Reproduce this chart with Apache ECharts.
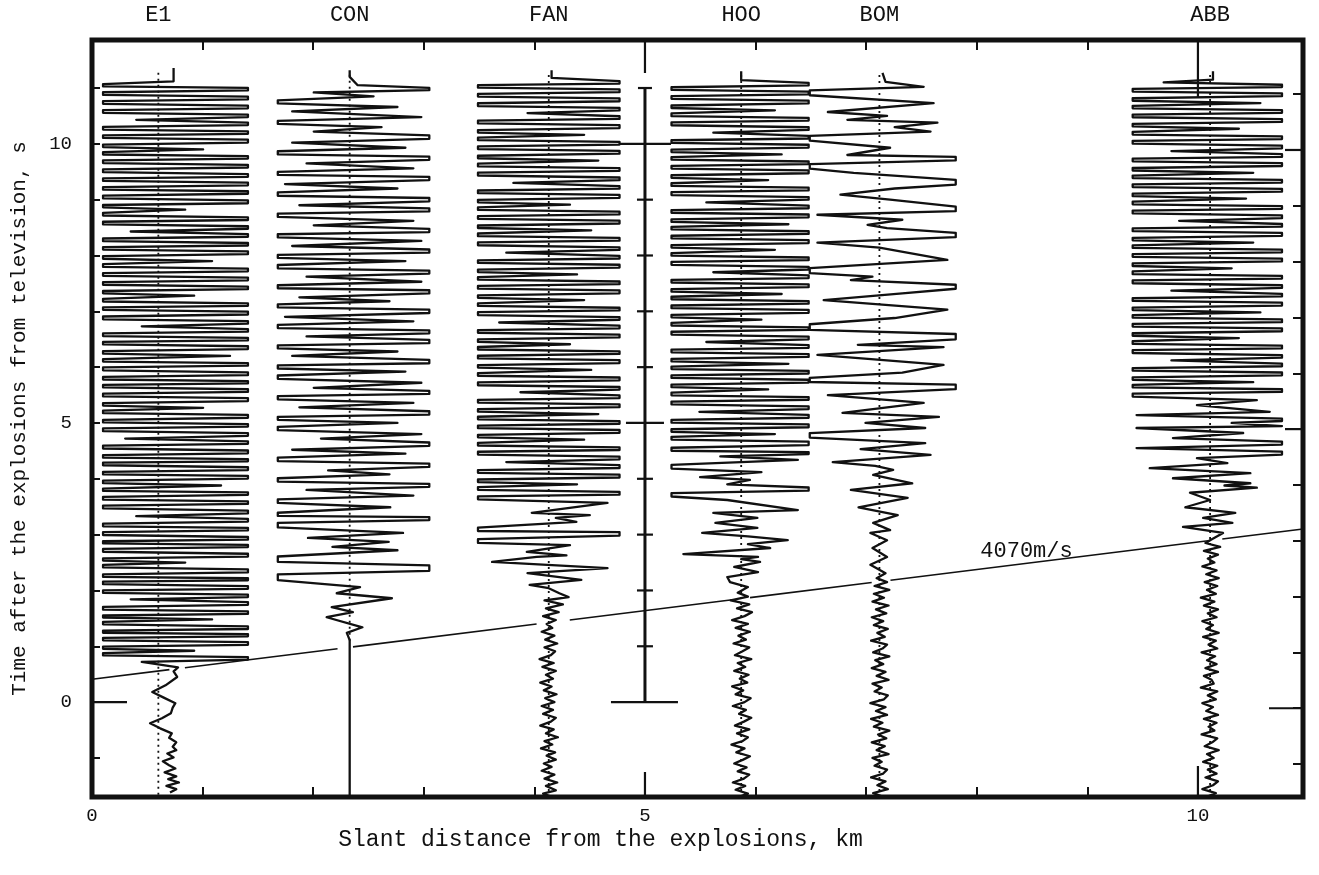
<!DOCTYPE html>
<html>
<head>
<meta charset="utf-8">
<script src="https://cdn.jsdelivr.net/npm/echarts@6/dist/echarts.min.js"></script>
<style>
html,body{margin:0;padding:0;background:#fff;}
#chart{width:1319px;height:875px;}
</style>
</head>
<body>
<div id="chart"></div>
<script>
// ---- Record section: stations, distances and traces ----
const stationNames = ['E1', 'CON', 'FAN', 'HOO', 'BOM', 'ABB'];
const stationDist = [0.6, 2.33, 4.13, 5.87, 7.12, 10.11];          // km
// clip level of each trace, in km to the left / right of its station line
const clipLeft = [0.5, 0.65, 0.64, 0.63, 0.63, 0.70];
const clipRight = [0.81, 0.72, 0.64, 0.61, 0.69, 0.65];
// dotted station (zero) lines, time span in s
const zeroLineTop = [11.3, 11.3, 11.3, 11.3, 11.3, 11.3];
const zeroLineBottom = [-1.66, 1.1, -1.7, -1.7, -1.7, -1.7];

// traces: [time s, amplitude], amplitude normalised to the clip level (|a| >= 1 is clipped)
const traceE1 = [
[-1.62,.13],[-1.56,.2],[-1.5,.09],[-1.44,.23],[-1.38,.11],[-1.33,.2],[-1.26,.07],[-1.19,.19],[-1.13,.12],[-1.06,.05],[-.99,.17],[-.92,.1],[-.86,.2],[-.8,.16],[-.72,.2],[-.64,.12],[-.56,.15],[-.47,.02],[-.38,-.15],[-.29,.04],[-.2,.14],[-.1,.16],[-.02,.19],[.08,.06],[.18,-.11],[.3,.08],[.45,.21],[.55,.17],[.62,.22],
[.72,-.3],[.78,1],[.86,-1],[.92,.4],[.97,-1],[1.05,1],[1.13,-1],[1.2,1],[1.26,-1],[1.33,1],[1.42,-1],[1.48,.6],[1.53,-1],[1.6,1],[1.68,-1],[1.77,1],[1.84,-.5],[1.9,1],[1.98,-1],[2.05,1],[2.14,-1],[2.2,1],[2.26,-1],[2.35,1],[2.44,-1],[2.5,.3],[2.55,-1],[2.63,1],[2.72,-1],[2.8,1],[2.86,-1],[2.93,1],[3.02,-1],[3.1,1],[3.17,-1],[3.26,1],[3.33,-.4],[3.4,1],[3.5,-1],[3.57,1],[3.65,-1],[3.74,1],[3.8,-1],[3.88,.7],[3.94,-1],[4.03,1],[4.1,-1],[4.18,1],[4.27,-1],[4.33,1],[4.4,-1],[4.48,1],[4.57,-1],[4.65,1],[4.72,-.6],[4.79,1],[4.88,-1],[4.96,1],[5.03,-1],[5.12,1],[5.2,-1],[5.27,.5],[5.33,-1],[5.42,1],[5.5,-1],[5.58,1],[5.66,-1],[5.73,1],[5.8,-1],[5.88,1],[5.97,-1],[6.05,1],[6.12,-1],[6.2,.8],[6.26,-1],[6.35,1],[6.43,-1],[6.5,1],[6.58,-1],[6.66,1],[6.73,-.3],[6.8,1],[6.88,-1],[6.97,1],[7.05,-1],[7.12,1],[7.2,-1],[7.28,.4],[7.34,-1],[7.42,1],[7.5,-1],[7.58,1],[7.66,-1],[7.74,1],[7.82,-1],[7.9,.6],[7.96,-1],[8.05,1],[8.13,-1],[8.2,1],[8.28,-1],[8.36,1],[8.43,-.5],[8.5,1],[8.58,-1],[8.66,1],[8.74,-1],[8.82,.3],[8.88,-1],[8.96,1],[9.05,-1],[9.13,1],[9.2,-1],[9.28,1],[9.36,-1],[9.43,1],[9.52,-1],[9.6,1],[9.68,-1],[9.76,1],[9.83,-1],[9.9,.5],[9.96,-1],[10.05,1],[10.13,-1],[10.2,1],[10.28,-1],[10.36,1],[10.43,-.4],[10.5,1],[10.58,-1],[10.66,1],[10.74,-1],[10.82,1],[10.9,-1],[10.98,1],[11.05,-1],[11.12,.17],[11.36,.17]
];
const traceCON = [
[-1.7,0],[1.11,0],[1.24,-.04],[1.34,.16],[1.52,-.32],[1.61,.04],[1.7,-.25],[1.86,.53],[1.95,-.18],[2.06,.13],[2.24,-1],[2.4,1],[2.56,-1],[2.72,.6],[2.78,-.24],[2.87,.49],[2.94,-.58],[3.03,.67],[3.17,-1],[3.3,1],[3.35,-1],[3.49,.51],
[3.6,-1],[3.7,.8],[3.8,-.6],[3.88,1],[3.98,-1],[4.08,.5],[4.15,-.3],[4.24,1],[4.35,-1],[4.45,.7],[4.52,-.8],[4.62,1],[4.72,-.4],[4.8,.9],[4.9,-1],[5.0,.6],[5.08,-1],[5.18,1],[5.28,-.7],[5.36,.8],[5.45,-1],[5.55,1],[5.63,-.5],[5.72,.9],[5.82,-1],[5.92,.7],[6.0,-1],[6.1,1],[6.2,-.8],[6.28,.6],[6.36,-1],[6.46,1],[6.55,-.6],[6.63,1],[6.73,-1],[6.82,.8],[6.9,-.9],[7.0,1],[7.1,-1],[7.18,.5],[7.25,-.7],[7.35,1],[7.44,-1],[7.53,.9],[7.62,-.6],[7.7,1],[7.8,-1],[7.9,.7],[7.98,-1],[8.08,1],[8.17,-.8],[8.26,.9],[8.35,-1],[8.45,1],[8.54,-.5],[8.62,.8],[8.72,-1],[8.82,1],[8.9,-.7],[9.0,1],[9.1,-1],[9.2,.6],[9.28,-.9],[9.38,1],[9.47,-1],[9.56,.8],[9.65,-.6],[9.74,1],[9.84,-1],[9.93,.7],[10.02,-.8],[10.12,1],[10.22,-.5],[10.3,.4],[10.38,-1],[10.48,.9],[10.58,-.8],[10.66,.6],[10.75,-1],[10.85,.3],[10.92,-.5],[10.98,1],[11.05,.1],[11.2,0],[11.32,0]
];
const traceFAN = [
[-1.7,.05],[-1.64,-.08],[-1.58,.1],[-1.5,-.04],[-1.44,.12],[-1.37,-.06],[-1.3,.08],[-1.23,-.1],[-1.16,.04],[-1.1,-.07],[-1.03,.1],[-.96,-.03],[-.9,.09],[-.83,-.11],[-.76,.05],[-.7,-.06],[-.63,.13],[-.56,-.04],[-.49,.07],[-.42,-.12],[-.35,.03],[-.28,.1],[-.21,-.08],[-.14,.06],[-.07,-.1],[0,.08],[.07,-.05],[.14,.11],[.21,-.07],[.28,.04],[.35,-.12],[.42,.06],[.49,-.04],[.56,.1],[.63,-.09],[.7,.07],[.77,-.13],[.84,.03],[.91,.09],[.98,-.06],[1.05,.12],[1.12,-.05],[1.19,.08],[1.26,-.1],[1.33,.05],[1.4,-.03],[1.47,.1],[1.54,-.08],[1.61,.14],[1.68,-.04],[1.75,.2],[1.82,-.06],[1.88,.28],
[1.95,.15],[2.04,0],[2.1,-.27],[2.19,.46],[2.31,-.3],[2.4,.83],[2.51,-.8],[2.6,-.17],[2.63,.25],[2.69,-.31],[2.81,.3],[2.87,-1],[3.03,1],[3.08,-1],[3.23,.39],[3.3,.1],[3.35,.58],[3.39,-.24],[3.57,.83],
[3.66,-1],[3.74,1],[3.83,-1],[3.9,.4],[3.96,-1],[4.05,1],[4.13,-1],[4.22,1],[4.3,-.6],[4.37,1],[4.46,-1],[4.54,1],[4.62,-1],[4.7,.5],[4.76,-1],[4.85,1],[4.93,-1],[5.01,1],[5.09,-1],[5.16,.7],[5.22,-1],[5.31,1],[5.39,-1],[5.47,1],[5.55,-.4],[5.62,1],[5.7,-1],[5.79,1],[5.87,-1],[5.95,.6],[6.01,-1],[6.1,1],[6.18,-1],[6.26,1],[6.34,-1],[6.41,.3],[6.47,-1],[6.56,1],[6.64,-1],[6.72,1],[6.8,-.7],[6.87,1],[6.96,-1],[7.04,1],[7.12,-1],[7.2,.5],[7.26,-1],[7.35,1],[7.43,-1],[7.51,1],[7.59,-1],[7.66,.4],[7.72,-1],[7.81,1],[7.89,-1],[7.97,1],[8.05,-.6],[8.12,1],[8.21,-1],[8.29,1],[8.37,-1],[8.45,.6],[8.51,-1],[8.6,1],[8.68,-1],[8.76,1],[8.84,-1],[8.91,.3],[8.97,-1],[9.06,1],[9.14,-1],[9.22,1],[9.3,-.5],[9.37,1],[9.46,-1],[9.54,1],[9.62,-1],[9.7,.7],[9.76,-1],[9.85,1],[9.93,-1],[10.01,1],[10.09,-1],[10.16,.5],[10.22,-1],[10.31,1],[10.39,-1],[10.47,1],[10.55,-.3],[10.62,1],[10.7,-1],[10.79,1],[10.87,-1],[10.95,1],[11.03,-1],[11.1,1],[11.18,.04],[11.32,.04]
];
const traceHOO = [
[-1.7,-.04],[-1.64,.1],[-1.57,-.08],[-1.5,.06],[-1.44,-.12],[-1.37,.04],[-1.3,.12],[-1.24,-.05],[-1.17,.08],[-1.1,-.1],[-1.03,.03],[-.97,.13],[-.9,-.07],[-.83,.05],[-.76,-.14],[-.7,.02],[-.63,.1],[-.56,-.06],[-.49,.12],[-.42,-.09],[-.35,.04],[-.28,.15],[-.21,-.03],[-.14,.07],[-.07,-.12],[0,.05],[.07,.14],[.14,-.08],[.21,.03],[.28,-.13],[.35,.09],[.42,-.02],[.49,.11],[.56,-.1],[.63,.06],[.7,-.05],[.77,.15],[.84,-.09],[.91,.02],[.98,.12],[1.05,-.11],[1.12,.07],[1.19,-.04],[1.26,.13],[1.33,-.08],[1.4,.1],[1.47,-.13],[1.54,.05],[1.61,.16],[1.68,-.06],[1.75,.12],[1.82,-.15],[1.89,.1],[1.96,-.05],
[2.06,.1],[2.15,-.16],[2.24,-.2],[2.33,.25],[2.42,-.1],[2.51,.28],[2.56,0],[2.6,.25],[2.65,-.83],[2.76,.43],[2.83,.1],[2.9,.69],[2.97,.1],[3.03,-.56],[3.12,.24],[3.21,-.37],[3.3,.24],[3.39,-.4],[3.44,.84],[3.62,-.2],[3.71,-1],[3.82,1],[3.9,-.2],[3.98,.13],[4.03,-.59],[4.12,.3],[4.21,-1],[4.34,.84],[4.4,-.3],[4.46,1],[4.52,-1],[4.64,1],
[4.73,-1],[4.8,.5],[4.86,-1],[4.95,1],[5.03,-1],[5.12,1],[5.2,-.6],[5.27,1],[5.36,-1],[5.44,1],[5.52,-1],[5.6,.4],[5.66,-1],[5.75,1],[5.83,-1],[5.91,1],[5.99,-1],[6.06,.7],[6.12,-1],[6.21,1],[6.29,-1],[6.37,1],[6.45,-.5],[6.52,1],[6.61,-1],[6.69,1],[6.77,-1],[6.85,.3],[6.91,-1],[7.0,1],[7.08,-1],[7.16,1],[7.24,-1],[7.31,.6],[7.37,-1],[7.46,1],[7.54,-1],[7.62,1],[7.7,-.4],[7.77,1],[7.86,-1],[7.94,1],[8.02,-1],[8.1,.5],[8.16,-1],[8.25,1],[8.33,-1],[8.41,1],[8.49,-1],[8.56,.7],[8.62,-1],[8.71,1],[8.79,-1],[8.87,1],[8.95,-.5],[9.02,1],[9.11,-1],[9.19,1],[9.27,-1],[9.35,.4],[9.41,-1],[9.5,1],[9.58,-1],[9.66,1],[9.74,-1],[9.81,.6],[9.87,-1],[9.96,1],[10.04,-1],[10.12,1],[10.2,-.4],[10.27,1],[10.36,-1],[10.44,1],[10.52,-1],[10.6,.5],[10.66,-1],[10.75,1],[10.83,-1],[10.91,1],[10.99,-1],[11.07,1],[11.14,0],[11.3,0]
];
const traceBOM = [
[-1.7,.06],[-1.63,-.09],[-1.56,.11],[-1.49,-.03],[-1.42,.08],[-1.35,-.12],[-1.28,.05],[-1.21,.1],[-1.14,-.07],[-1.07,.03],[-1,-.1],[-.93,.12],[-.86,-.04],[-.79,.07],[-.72,-.11],[-.65,.09],[-.58,-.02],[-.51,.13],[-.44,-.08],[-.37,.04],[-.3,-.12],[-.23,.1],[-.16,-.05],[-.09,.08],[-.02,-.13],[.05,.06],[.12,.11],[.19,-.07],[.26,.03],[.33,-.1],[.4,.12],[.47,-.04],[.54,.08],[.61,-.11],[.68,.05],[.75,-.06],[.82,.13],[.89,-.09],[.96,.04],[1.03,.1],[1.1,-.12],[1.17,.07],[1.24,-.03],[1.31,.11],[1.38,-.08],[1.45,.05],[1.52,-.11],[1.59,.09],[1.66,-.05],[1.73,.12],[1.8,-.1],[1.87,.06],[1.94,-.08],[2.01,.13],[2.08,-.07],[2.15,.1],[2.22,-.04],
[2.31,.08],[2.46,-.13],[2.6,.1],[2.76,-.1],[2.9,.1],[3.03,-.13],[3.08,.14],[3.21,-.09],[3.35,.24],[3.49,-.3],[3.66,.37],[3.8,-.41],[3.92,.43],[4.07,-.09],[4.16,.18],[4.23,-.06],[4.3,-.67],[4.43,.67],[4.53,-.27],[4.64,.6],[4.78,-1],[4.91,.6],[5.0,-.2],[5.11,.78],[5.18,-.53],[5.36,.58],
[5.5,-.74],[5.65,1],[5.77,-1],[5.9,.3],[6.04,.84],[6.22,-.89],[6.36,.84],[6.4,-.31],[6.54,1],[6.72,-1],[6.88,.2],[7.03,.89],[7.2,-.8],[7.32,.3],[7.44,1],[7.56,-.41],[7.62,-.1],[7.71,-1],[7.92,.89],[8.14,0],[8.23,-.89],[8.37,1],[8.49,.1],[8.55,-.17],[8.64,.3],[8.73,-.89],[8.82,1],[9.0,.14],[9.09,-.56],[9.2,.2],[9.3,1],[9.48,-.37],[9.59,-1],[9.75,1],[9.8,-.46],[9.93,.14],[10.11,-1],[10.22,.67],[10.3,.2],[10.38,.76],[10.43,-.46],[10.5,.1],[10.57,-.74],[10.73,.71],[10.93,-1],[11.02,.58],[11.11,.08],[11.27,.04]
];
const traceABB = [
[-1.7,-.05],[-1.63,.08],[-1.56,-.1],[-1.49,.04],[-1.42,.11],[-1.35,-.06],[-1.28,.09],[-1.21,-.03],[-1.14,.1],[-1.07,-.09],[-1,.05],[-.93,-.04],[-.86,.12],[-.79,-.07],[-.72,.03],[-.65,.1],[-.58,-.11],[-.51,.06],[-.44,-.02],[-.37,.09],[-.3,-.08],[-.23,.11],[-.16,-.05],[-.09,.04],[-.02,-.1],[.05,.08],[.12,-.03],[.19,.1],[.26,-.12],[.33,.05],[.4,.02],[.47,-.08],[.54,.11],[.61,-.06],[.68,.09],[.75,-.04],[.82,.07],[.89,-.11],[.96,.1],[1.03,-.02],[1.1,.08],[1.17,-.09],[1.24,.12],[1.31,-.05],[1.38,.04],[1.45,-.1],[1.52,.09],[1.59,-.03],[1.66,.11],[1.73,-.08],[1.8,.06],[1.87,-.12],[1.94,.08],[2.01,-.04],[2.08,.1],[2.15,-.07],[2.22,.12],[2.29,-.05],[2.36,.09],[2.43,-.1],[2.5,.06],[2.57,-.03],[2.64,.11],[2.71,-.08],[2.78,.14],[2.85,-.06],
[2.9,0],[3.03,.18],[3.14,-.35],[3.21,.31],[3.3,-.09],[3.39,.35],[3.49,-.32],[3.62,0],[3.75,-.26],[3.84,.65],[3.88,.2],[3.92,.56],[4.01,-.48],[4.1,.56],[4.19,-.78],[4.28,.24],[4.37,-.17],[4.46,1],[4.55,-.95],[4.64,1],[4.73,-.48],[4.82,.46],[4.91,-.95],[4.96,1],[5.0,.3],[5.05,1],[5.14,-.95],[5.2,.83],[5.32,-.17],[5.41,.65],
[5.5,-1],[5.58,1],[5.66,-1],[5.73,.6],[5.79,-1],[5.88,1],[5.96,-1],[6.04,1],[6.12,-.5],[6.19,1],[6.28,-1],[6.36,1],[6.44,-1],[6.52,.4],[6.58,-1],[6.67,1],[6.75,-1],[6.83,1],[6.91,-1],[6.98,.7],[7.04,-1],[7.13,1],[7.21,-1],[7.29,1],[7.37,-.5],[7.44,1],[7.53,-1],[7.61,1],[7.69,-1],[7.77,.3],[7.83,-1],[7.92,1],[8.0,-1],[8.08,1],[8.16,-1],[8.23,.6],[8.29,-1],[8.38,1],[8.46,-1],[8.54,1],[8.62,-.4],[8.69,1],[8.78,-1],[8.86,1],[8.94,-1],[9.02,.5],[9.08,-1],[9.17,1],[9.25,-1],[9.33,1],[9.41,-1],[9.48,.6],[9.54,-1],[9.63,1],[9.71,-1],[9.79,1],[9.87,-.5],[9.94,1],[10.03,-1],[10.11,1],[10.19,-1],[10.27,.4],[10.33,-1],[10.42,1],[10.5,-1],[10.58,1],[10.66,-1],[10.73,.7],[10.79,-1],[10.88,1],[10.96,-1],[11.04,1],[11.1,-.6],[11.15,.04],[11.3,.04]
];
const traces = [traceE1, traceCON, traceFAN, traceHOO, traceBOM, traceABB];

// apparent-velocity line: t = rayT0 + x / rayVelocity, broken where it meets each trace
const rayVelocity = 4.07;   // km/s
const rayT0 = 0.41;         // s
const rayLabel = '4070m/s';
const rayLabelAt = [8.45, 2.7];
const rayGaps = [[0.7, 0.84], [2.22, 2.36], [4.02, 4.32], [5.79, 5.95], [7.05, 7.22], [10.11, 10.22]];

// time scale bar
const scaleBarX = 5;
const scaleBarTicks = [0,1,2,3,4,5,6,7,8,9,10,11];

// axes
const xMin = 0, xMax = 10.95, yMin = -1.7, yMax = 11.86;
const xTicks = [1,2,3,4,5,6,7,8,9,10];
const xTickLabels = [0, 5, 10];
const yTicks = [-1,0,1,2,3,4,5,6,7,8,9,10,11];
const yTickLabels = [0, 5, 10];
const rightTicks = [-1.11,-0.11,0.89,1.89,2.89,3.89,4.89,5.89,6.89,7.89,8.89,9.89,10.89,11.89];
const bottomLongTicks = [5, 10];
const topLongTicks = [5, 10];
const leftLongTicks = [0];
const rightLongTicks = [-0.11, 4.89, 9.89];
const xTitle = 'Slant distance from the explosions, km';
const yTitle = 'Time after the explosions from television, s';

// ---- build drawing data ----
const INK = '#111';
const FONT = '"Liberation Mono", "DejaVu Sans Mono", monospace';

function traceLine(d, cl, cr, pts) {
  const P = 0.3, out = [];
  const xOf = a => d + (a < 0 ? Math.max(a, -1) * cl : Math.min(a, 1) * cr);
  pts.forEach((p, i) => {
    const t = p[0], a = p[1];
    if (Math.abs(a) >= 1) {
      const t0 = i > 0 ? t - P * (t - pts[i - 1][0]) : t;
      const t1 = i < pts.length - 1 ? t + P * (pts[i + 1][0] - t) : t;
      out.push([xOf(a), t0], [xOf(a), t1]);
    } else {
      out.push([xOf(a), t]);
    }
  });
  return out;
}

const series = [];

// dotted zero lines
stationDist.forEach((d, i) => {
  series.push({
    type: 'line', name: stationNames[i] + '-zero', symbol: 'none', silent: true, animation: false,
    data: [[d, zeroLineBottom[i]], [d, zeroLineTop[i]]],
    lineStyle: { color: INK, width: 1.8, type: [2, 4] }, z: 2
  });
});

// seismic traces
traces.forEach((tr, i) => {
  series.push({
    type: 'line', name: stationNames[i], symbol: 'none', silent: true, animation: false,
    data: traceLine(stationDist[i], clipLeft[i], clipRight[i], tr),
    lineStyle: { color: INK, width: 2.3, join: 'round' }, z: 3
  });
});

// velocity line segments
(function () {
  const tAt = x => rayT0 + x / rayVelocity;
  let start = xMin;
  const segs = [];
  rayGaps.forEach(g => { segs.push([start, g[0]]); start = g[1]; });
  segs.push([start, xMax]);
  segs.forEach((s, k) => {
    series.push({
      type: 'line', name: 'ray' + k, symbol: 'none', silent: true, animation: false,
      data: [[s[0], tAt(s[0])], [s[1], tAt(s[1])]],
      lineStyle: { color: INK, width: 1.6 }, z: 4
    });
  });
})();

// velocity label
series.push({
  type: 'custom', name: 'ray-label', silent: true, animation: false, clip: false,
  data: [rayLabelAt],
  renderItem: (params, api) => {
    const p = api.coord([api.value(0), api.value(1)]);
    return { type: 'text', x: p[0], y: p[1],
      style: { text: rayLabel, fill: INK, font: '22px ' + FONT, align: 'center', verticalAlign: 'middle' } };
  }, z: 5
});

// scale bar
series.push({
  type: 'line', name: 'scale-bar', symbol: 'none', silent: true, animation: false,
  data: [[scaleBarX, scaleBarTicks[0]], [scaleBarX, scaleBarTicks[scaleBarTicks.length - 1]]],
  lineStyle: { color: INK, width: 3 }, z: 4
});
series.push({
  type: 'custom', name: 'scale-bar-ticks', silent: true, animation: false, clip: false,
  data: scaleBarTicks.map(t => [scaleBarX, t]),
  renderItem: (params, api) => {
    const t = api.value(1);
    const p = api.coord([api.value(0), t]);
    let l = 8, r = 8;
    if (t === 0) { l = 34; r = 33; }
    else if (t === 5) { l = 19; r = 19; }
    else if (t === 10) { l = 25; r = 26; }
    else if (t === 11) { l = 7; r = 7; }
    return { type: 'line', shape: { x1: p[0] - l, y1: p[1], x2: p[0] + r, y2: p[1] },
      style: { stroke: INK, lineWidth: 2.2 } };
  }, z: 4
});

// long marks on the frame
function frameMarks(name, pts, dx, dy, lens) {
  series.push({
    type: 'custom', name: name, silent: true, animation: false, clip: false,
    data: pts,
    renderItem: (params, api) => {
      const p = api.coord([api.value(0), api.value(1)]);
      const len = lens[params.dataIndex];
      return { type: 'line', shape: { x1: p[0], y1: p[1], x2: p[0] + dx * len, y2: p[1] + dy * len },
        style: { stroke: INK, lineWidth: 2.2 } };
    }, z: 6
  });
}
frameMarks('bottom-long', bottomLongTicks.map(v => [v, yMin]), 0, -1, [25, 31]);
frameMarks('top-long', topLongTicks.map(v => [v, yMax]), 0, 1, [33, 58]);
frameMarks('left-long', leftLongTicks.map(v => [xMin, v]), 1, 0, [35]);
frameMarks('right-long', rightLongTicks.map(v => [xMax, v]), -1, 0, [34, 18, 18]);

const nameFor = v => {
  const i = stationDist.findIndex(d => Math.abs(d - v) < 1e-6);
  return i >= 0 ? stationNames[i] : '';
};

const chart = echarts.init(document.getElementById('chart'), null, { renderer: 'canvas' });
chart.setOption({
  animation: false,
  backgroundColor: '#fff',
  grid: { left: 92, right: 16, top: 40, bottom: 78, show: true, borderColor: INK, borderWidth: 5, backgroundColor: 'rgba(0,0,0,0)' },
  xAxis: [
    {
      type: 'value', min: xMin, max: xMax, position: 'bottom',
      axisLine: { show: false, onZero: false }, splitLine: { show: false },
      axisTick: { show: true, inside: true, length: 10, customValues: xTicks, lineStyle: { color: INK, width: 2 } },
      axisLabel: { customValues: xTickLabels, margin: 9, color: INK, fontFamily: FONT, fontSize: 19 },
      name: xTitle, nameLocation: 'middle', nameGap: 31, nameMoveOverlap: false,
      nameTextStyle: { color: INK, fontFamily: FONT, fontSize: 23, padding: [0, 194, 0, 0] }
    },
    {
      type: 'value', min: xMin, max: xMax, position: 'top',
      axisLine: { show: false, onZero: false }, splitLine: { show: false },
      axisTick: { show: true, inside: true, length: 10, customValues: xTicks, lineStyle: { color: INK, width: 2 } },
      axisLabel: { customValues: stationDist, formatter: nameFor, margin: 14, color: INK, fontFamily: FONT, fontSize: 22 }
    }
  ],
  yAxis: [
    {
      type: 'value', min: yMin, max: yMax, position: 'left',
      axisLine: { show: false, onZero: false }, splitLine: { show: false },
      axisTick: { show: true, inside: true, length: 8, customValues: yTicks, lineStyle: { color: INK, width: 2 } },
      axisLabel: { customValues: yTickLabels, margin: 20, color: INK, fontFamily: FONT, fontSize: 19 },
      name: yTitle, nameLocation: 'middle', nameGap: 62, nameRotate: 90, nameMoveOverlap: false,
      nameTextStyle: { color: INK, fontFamily: FONT, fontSize: 21 }
    },
    {
      type: 'value', min: yMin, max: yMax, position: 'right',
      axisLine: { show: false, onZero: false }, splitLine: { show: false },
      axisTick: { show: true, inside: true, length: 10, customValues: rightTicks, lineStyle: { color: INK, width: 2 } },
      axisLabel: { show: false }
    }
  ],
  series: series
});
</script>
</body>
</html>
